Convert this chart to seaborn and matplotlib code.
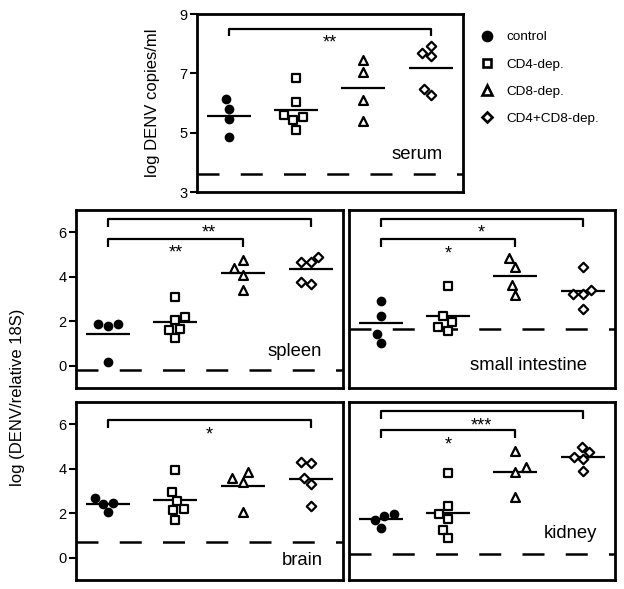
import numpy as np
import pandas as pd
import matplotlib
matplotlib.use("Agg")
import matplotlib.pyplot as plt
import seaborn as sns
from matplotlib.lines import Line2D

# ---------------- data ----------------
groups = ["control", "CD4-dep.", "CD8-dep.", "CD4+CD8-dep."]

serum_control = [6.12, 5.80, 5.47, 4.84]
serum_cd4 = [6.85, 6.03, 5.53, 5.61, 5.42, 5.10]
serum_cd8 = [7.45, 7.04, 6.10, 5.38]
serum_cd4cd8 = [7.68, 7.57, 7.93, 6.27, 6.48]

spleen_control = [1.88, 1.80, 1.89, 0.15]
spleen_cd4 = [3.08, 2.19, 2.04, 1.65, 1.62, 1.25]
spleen_cd8 = [4.77, 4.40, 4.07, 3.39]
spleen_cd4cd8 = [4.65, 4.65, 4.89, 3.68, 3.77]

intestine_control = [2.93, 2.22, 1.43, 1.02]
intestine_cd4 = [3.60, 2.22, 1.97, 1.73, 1.55]
intestine_cd8 = [4.85, 4.43, 3.65, 3.17]
intestine_cd4cd8 = [4.44, 3.24, 3.23, 3.42, 2.57]

brain_control = [2.45, 2.69, 2.42, 2.04]
brain_cd4 = [3.95, 2.97, 2.57, 2.19, 2.15, 1.71]
brain_cd8 = [3.59, 3.39, 3.84, 2.04]
brain_cd4cd8 = [4.25, 4.29, 3.59, 3.32, 2.34]

kidney_control = [1.89, 1.97, 1.70, 1.34]
kidney_cd4 = [3.80, 2.34, 1.97, 1.74, 1.26, 0.87]
kidney_cd8 = [4.79, 4.07, 3.87, 2.75]
kidney_cd4cd8 = [4.74, 4.55, 4.44, 5.00, 3.89]

panel_names = ["serum", "spleen", "small intestine", "brain", "kidney"]
detection_limits = [3.62, -0.18, 1.67, 0.72, 0.18]

# significance brackets: (from group, to group, height, label)
serum_brackets = [(0, 3, 8.51, "**")]
spleen_brackets = [(0, 3, 6.61, "**"), (0, 2, 5.71, "**")]
intestine_brackets = [(0, 3, 6.61, "*"), (0, 2, 5.68, "*")]
brain_brackets = [(0, 3, 6.18, "*")]
kidney_brackets = [(0, 3, 6.59, "***"), (0, 2, 5.75, "*")]

# ---------------- style ----------------
sns.set_style("ticks")
plt.rcParams["font.family"] = ["Liberation Sans", "DejaVu Sans"]
plt.rcParams["axes.edgecolor"] = "black"
plt.rcParams["axes.linewidth"] = 2.0
plt.rcParams["xtick.color"] = "black"
plt.rcParams["ytick.color"] = "black"
plt.rcParams["text.color"] = "black"
plt.rcParams["axes.labelcolor"] = "black"

W, H = 624, 589
fig = plt.figure(figsize=(W / 100, H / 100), dpi=100)


def px_axes(l, t, r, b):
    return fig.add_axes([l / W, 1 - b / H, (r - l) / W, (b - t) / H])


ax_serum = px_axes(197, 14, 463, 192)
ax_spleen = px_axes(76, 210, 343, 388)
ax_int = px_axes(349, 210, 615, 388)
ax_brain = px_axes(76, 402, 343, 580)
ax_kid = px_axes(349, 402, 615, 580)

styles = [
    dict(marker="o", size=7.0, color="black", linewidth=0),
    dict(marker="s", size=5.6, color="black", facecolor="white", edgecolor="black", linewidth=1.6),
    dict(marker="^", size=6.4, color="black", facecolor="white", edgecolor="black", linewidth=1.6),
    dict(marker="D", size=4.8, color="black", facecolor="white", edgecolor="black", linewidth=1.6),
]

panels = [
    (ax_serum, [serum_control, serum_cd4, serum_cd8, serum_cd4cd8], serum_brackets, 0.26, (3, 9), [3, 5, 7, 9], True, (0.925, 0.21)),
    (ax_spleen, [spleen_control, spleen_cd4, spleen_cd8, spleen_cd4cd8], spleen_brackets, 0.36, (-1, 7), [0, 2, 4, 6], True, (0.921, 0.204)),
    (ax_int, [intestine_control, intestine_cd4, intestine_cd8, intestine_cd4cd8], intestine_brackets, 0.36, (-1, 7), [0, 2, 4, 6], False, (0.895, 0.124)),
    (ax_brain, [brain_control, brain_cd4, brain_cd8, brain_cd4cd8], brain_brackets, 0.36, (-1, 7), [0, 2, 4, 6], True, (0.925, 0.107)),
    (ax_kid, [kidney_control, kidney_cd4, kidney_cd8, kidney_cd4cd8], kidney_brackets, 0.36, (-1, 7), [0, 2, 4, 6], False, (0.933, 0.264)),
]

for (ax, vals, brackets, drop, ylim, yticks, show_y, lab_pos), name, lod in zip(panels, panel_names, detection_limits):
    df = pd.DataFrame({
        "group": np.repeat(groups, [len(v) for v in vals]),
        "value": np.concatenate(vals),
    })
    for g, st in zip(groups, styles):
        sns.swarmplot(data=df[df["group"] == g], x="group", y="value", order=groups, ax=ax, zorder=3, **st)
    sns.pointplot(data=df, x="group", y="value", order=groups, estimator="mean", errorbar=None,
                  color="black", markers="_", linestyles="none", markersize=32, markeredgewidth=1.6, ax=ax)
    ax.axhline(lod, color="black", lw=1.8, linestyle=(0, (8.8, 8.5)), zorder=1)
    for g0, g1, yb, lab in brackets:
        ax.plot([g0, g0, g1, g1], [yb - drop, yb, yb, yb - drop], color="black", lw=1.6, solid_capstyle="butt")
        ax.annotate(lab, xy=((g0 + g1) / 2, yb), xytext=(0, -4.5), textcoords="offset points",
                    ha="center", va="top", fontsize=13)
    ax.set_xlim(-0.47, 3.48)
    ax.set_ylim(*ylim)
    ax.set_xticks([])
    ax.set_xlabel("")
    ax.set_ylabel("")
    if show_y:
        ax.set_yticks(yticks)
        ax.tick_params(axis="y", direction="out", length=5, width=1.5, pad=2, labelsize=10.5)
    else:
        ax.set_yticks([])
    for sp in ax.spines.values():
        sp.set_linewidth(2.0)
        sp.set_color("black")
    ax.text(lab_pos[0], lab_pos[1], name, transform=ax.transAxes, ha="right", va="center", fontsize=13.3)

ax_serum.set_ylabel("log DENV copies/ml", fontsize=12, labelpad=14)
fig.text(18 / W, 1 - 397 / H, "log (DENV/relative 18S)", rotation=90, ha="center", va="center", fontsize=12)

handles = [
    Line2D([], [], marker="o", ms=7.4, color="black", ls="none"),
    Line2D([], [], marker="s", ms=6.2, mfc="white", mec="black", mew=1.9, ls="none"),
    Line2D([], [], marker="^", ms=7.2, mfc="white", mec="black", mew=1.9, ls="none"),
    Line2D([], [], marker="D", ms=5.5, mfc="white", mec="black", mew=1.9, ls="none"),
]
fig.legend(handles, groups, loc="upper left", bbox_to_anchor=(479 / W, 1 - 31 / H), frameon=False,
           fontsize=9.7, labelspacing=1.1, handletextpad=0.8, handlelength=1.2, borderpad=0, borderaxespad=0)

fig.savefig("out.png", dpi=100)
